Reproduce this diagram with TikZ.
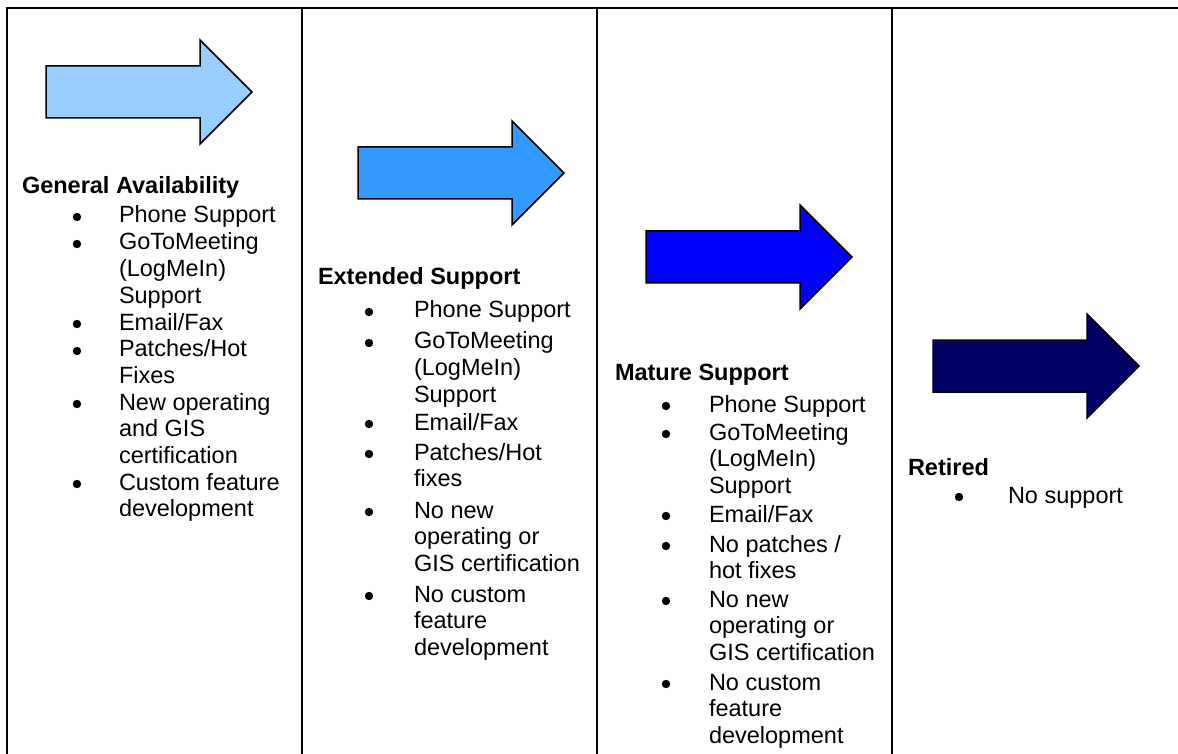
\documentclass[tikz,border=0pt]{standalone}
\usepackage{fontspec}
\setmainfont{Liberation Sans}
\newcommand*{\bodyfont}{\fontsize{11.75}{13.35}\selectfont}
\definecolor{GA}{HTML}{99CCFF}
\definecolor{ES}{HTML}{3399FF}
\definecolor{MS}{HTML}{0000FF}
\definecolor{RT}{HTML}{000066}
\usepackage{tikz}
\tikzstyle{txt}=[inner sep=0pt, outer sep=0pt, anchor=base west]
\tikzstyle{dot}=[circle, fill=black, inner sep=0pt, outer sep=0pt, minimum size=4.2pt]
\tikzstyle{rule}=[black, line width=1pt]
\tikzstyle{phase}=[black, line width=0.75pt, line join=miter]
% arrow: body left x, centre y, fill colour
\newcommand*{\phasearrow}[3]{%
  \draw [phase, fill=#3] (#1,#2-26) -- (#1+154,#2-26) -- (#1+154,#2-52)
    -- (#1+206,#2) -- (#1+154,#2+52) -- (#1+154,#2+26) -- (#1,#2+26) -- cycle;}
% bullet item: name, bullet x, text x, first baseline, lines
\newcommand*{\phaseitem}[5]{%
  \node [dot] (#1) at (#2,#4-6) {};
  \foreach \entry [count=\k from 0] in {#5}
    \node [txt] (#1-\k) at (#3,#4+\k*26.7) {\entry};}

\begin{document}
\begin{tikzpicture}[x=0.5pt, y=-0.5pt]
    \bodyfont
        \path [use as bounding box] (0,0) rectangle (1178,754);
        \draw [rule] (6,8) -- (1178,8);
        \draw [rule] (7,8) -- (7,754);
        \draw [rule] (302,8) -- (302,754);
        \draw [rule] (597,8) -- (597,754);
        \draw [rule] (892,8) -- (892,754);
        % general availability
        \phasearrow{46}{92}{GA}
        \node [txt, font=\bfseries] (ga) at (22,194) {General Availability};
        \phaseitem{ga1}{77}{119}{223}{Phone Support}
        \phaseitem{ga2}{77}{119}{250}{GoToMeeting,{(LogMeIn)},Support}
        \phaseitem{ga3}{77}{119}{330}{Email/Fax}
        \phaseitem{ga4}{77}{119}{357}{Patches/Hot,Fixes}
        \phaseitem{ga5}{77}{119}{410}{New operating,and GIS,certification}
        \phaseitem{ga6}{77}{119}{490}{Custom feature,development}
        % extended support
        \phasearrow{358}{173}{ES}
        \node [txt, font=\bfseries] (es) at (318,285) {Extended Support};
        \phaseitem{es1}{369}{414}{318}{Phone Support}
        \phaseitem{es2}{369}{414}{349}{GoToMeeting,{(LogMeIn)},Support}
        \phaseitem{es3}{369}{414}{430}{Email/Fax}
        \phaseitem{es4}{369}{414}{460}{Patches/Hot,fixes}
        \phaseitem{es5}{369}{414}{518}{No new,operating or,GIS certification}
        \phaseitem{es6}{369}{414}{602}{No custom,feature,development}
        % mature support
        \phasearrow{646}{257}{MS}
        \node [txt, font=\bfseries] (ms) at (615,380) {Mature Support};
        \phaseitem{ms1}{666}{709}{412}{Phone Support}
        \phaseitem{ms2}{666}{709}{440}{GoToMeeting,{(LogMeIn)},Support}
        \phaseitem{ms3}{666}{709}{522}{Email/Fax}
        \phaseitem{ms4}{666}{709}{552}{No patches /,hot fixes}
        \phaseitem{ms5}{666}{709}{607}{No new,operating or,GIS certification}
        \phaseitem{ms6}{666}{709}{690}{No custom,feature,development}
        % retired
        \phasearrow{933}{366}{RT}
        \node [txt, font=\bfseries] (rt) at (908,475) {Retired};
        \phaseitem{rt1}{959}{1008}{503}{No support}
    \end{tikzpicture}
\end{document}
